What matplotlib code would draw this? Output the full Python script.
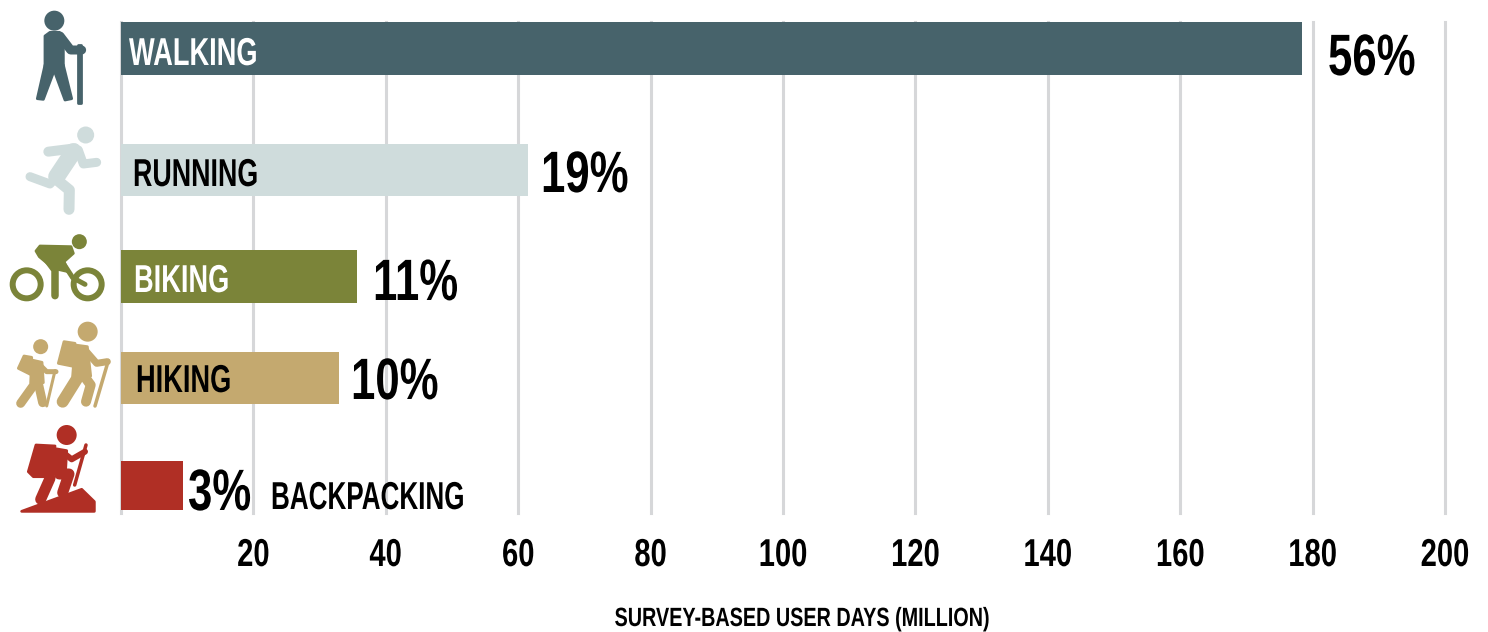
import matplotlib as mpl
mpl.use('Agg')
import matplotlib.pyplot as plt
from matplotlib.patches import Circle, Polygon
from matplotlib.patheffects import AbstractPathEffect
from matplotlib.transforms import Affine2D

categories = ["WALKING", "RUNNING", "BIKING", "HIKING", "BACKPACKING"]
user_days = [178.4, 61.5, 35.6, 32.9, 9.4]
percents = ["56%", "19%", "11%", "10%", "3%"]
colors = ["#47636b", "#cfdcdc", "#7b8439", "#c4a96f", "#b02f25"]
label_colors = ["white", "black", "white", "black", "black"]
ticks = [20, 40, 60, 80, 100, 120, 140, 160, 180, 200]
xlabel = "SURVEY-BASED USER DAYS (MILLION)"

# bar rows are in reference pixels
bar_y = [48.5, 170, 276.5, 378, 485.5]
bar_h = [53, 52, 53, 52, 49]
label_x = [129, 133, 134, 136, 271]
label_y = [65, 186, 292, 392, 509]
label_sx = [0.70, 0.69, 0.70, 0.70, 0.67]
pct_x = [1328, 541, 373, 351, 188]
pct_y = [75, 192, 300, 399, 510]

W, H = 1488, 632
plt.rcParams['font.family'] = ['Liberation Sans', 'DejaVu Sans']
plt.rcParams['font.weight'] = 'bold'


# no condensed family is installed, so squeeze the glyphs of the real text
class Squeeze(AbstractPathEffect):
    def __init__(self, sx, center=False):
        super().__init__()
        self.sx = sx
        self.center = center

    def draw_path(self, renderer, gc, tpath, affine, rgbFace=None):
        cx = 0
        if self.center:
            cx = tpath.get_extents().x0 / 2 + tpath.get_extents().x1 / 2
        t = Affine2D().translate(-cx, 0).scale(self.sx, 1).translate(cx, 0)
        renderer.draw_path(gc, tpath, t + affine, rgbFace)


fig = plt.figure(figsize=(W / 100, H / 100), dpi=100)
ax = fig.add_axes([121 / W, 1 - 513 / H, (1445 - 121) / W, (513 - 22) / H])
ax.set_xlim(0, 200)
ax.set_ylim(513, 22)
ax.barh(bar_y, user_days, height=bar_h, color=colors, zorder=3)
ax.set_xticks(ticks)
ax.set_yticks([])
ax.grid(axis='x', color='#d6d7d9', lw=2.2, zorder=1, clip_on=False)
ax.axvline(0, color='#d6d7d9', lw=2.2, zorder=1, clip_on=False)
ax.tick_params(axis='x', length=0, pad=18, labelsize=28)
for lab in ax.get_xticklabels():
    lab.set_path_effects([Squeeze(0.75, center=True)])
for s in ax.spines.values():
    s.set_visible(False)
ax.patch.set_visible(False)

# overlay in reference pixels for the text and pictograms
ov = fig.add_axes([0, 0, 1, 1], zorder=5)
ov.set_xlim(0, W)
ov.set_ylim(H, 0)
ov.axis('off')

for i in range(5):
    t = ov.text(label_x[i], label_y[i], categories[i], color=label_colors[i], fontsize=28, va='baseline', ha='left')
    t.set_path_effects([Squeeze(label_sx[i])])
    t = ov.text(pct_x[i], pct_y[i], percents[i], color='black', fontsize=42, va='baseline', ha='left')
    t.set_path_effects([Squeeze(0.75)])
t = ov.text(802, 626, xlabel, fontsize=19, ha='center', va='baseline', color='black')
t.set_path_effects([Squeeze(0.75, center=True)])


def cap(pts, w, c, dy=0):
    xs = [p[0] / 3 for p in pts]
    ys = [p[1] / 3 + dy for p in pts]
    ov.plot(xs, ys, color=c, lw=w * 0.72, solid_capstyle='round', solid_joinstyle='round')


def poly(pts, c, dy=0):
    ov.add_patch(Polygon([(p[0] / 3, p[1] / 3 + dy) for p in pts], closed=True, fc=c, ec=c, lw=2, joinstyle='round'))


def head(x, y, r, c, dy=0):
    ov.add_patch(Circle((x / 3, y / 3 + dy), r, color=c, lw=0))


# walker
c = colors[0]
head(163, 62, 10, c)
poly([(135, 108), (150, 97), (178, 97), (190, 112), (190, 200), (135, 200)], c)
cap([(180, 108), (212, 150), (245, 150)], 9, c)
poly([(135, 195), (165, 205), (130, 298), (112, 296)], c)
poly([(160, 205), (190, 195), (215, 296), (195, 300)], c)
poly([(235, 135), (242, 135), (242, 310), (235, 310)], c)

# runner
c = colors[1]
head(257, 405, 8.5, c)
cap([(220, 455), (170, 530)], 17, c)
cap([(145, 455), (225, 445)], 10, c)
cap([(235, 450), (250, 492), (290, 487)], 9, c)
cap([(90, 530), (150, 552), (170, 530)], 9, c)
cap([(165, 535), (208, 570), (207, 628)], 11, c)

# biker
c = colors[2]
for wx in (80, 263):
    ov.add_patch(Circle((wx / 3, 178 / 3 + 225), 14, fill=False, ec=c, lw=4.3))
head(238, 50, 7.5, c, 225)
poly([(108, 78), (120, 63), (213, 65), (220, 85), (192, 110), (205, 140), (160, 130), (118, 95)], c, 225)
cap([(135, 95), (165, 135), (165, 212)], 7.5, c, 225)
cap([(190, 115), (218, 158), (255, 178)], 5, c, 225)

# hikers
c = colors[3]
head(263, 95, 10, c, 300)
poly([(175, 190), (192, 125), (225, 130), (225, 200)], c, 300)
poly([(225, 135), (262, 140), (272, 228), (218, 228)], c, 300)
cap([(255, 150), (290, 190), (322, 185)], 7, c, 300)
cap([(325, 182), (285, 318)], 3.5, c, 300)
cap([(238, 225), (188, 305)], 12, c, 300)
cap([(250, 225), (272, 255), (258, 305)], 10, c, 300)
head(122, 140, 7.5, c, 300)
poly([(55, 205), (72, 168), (95, 172), (95, 225)], c, 300)
poly([(95, 180), (126, 187), (130, 248), (92, 248)], c, 300)
cap([(115, 190), (140, 215), (168, 215)], 5, c, 300)
cap([(165, 212), (140, 318)], 3, c, 300)
cap([(105, 250), (62, 310)], 9, c, 300)
cap([(115, 250), (128, 308)], 9, c, 300)

# backpacker
c = colors[4]
head(200, 405, 10, c, 300)
poly([(85, 515), (108, 435), (165, 438), (150, 530), (100, 530)], c, 300)
poly([(160, 445), (200, 452), (196, 522), (150, 522)], c, 300)
cap([(195, 462), (215, 478), (255, 455)], 6, c, 300)
cap([(258, 435), (224, 555)], 3.5, c, 300)
cap([(150, 535), (122, 598)], 11, c, 300)
cap([(178, 522), (207, 522), (188, 578)], 11, c, 300)
poly([(65, 634), (245, 568), (283, 605), (283, 634)], c, 300)

fig.savefig('out.png', dpi=100)
